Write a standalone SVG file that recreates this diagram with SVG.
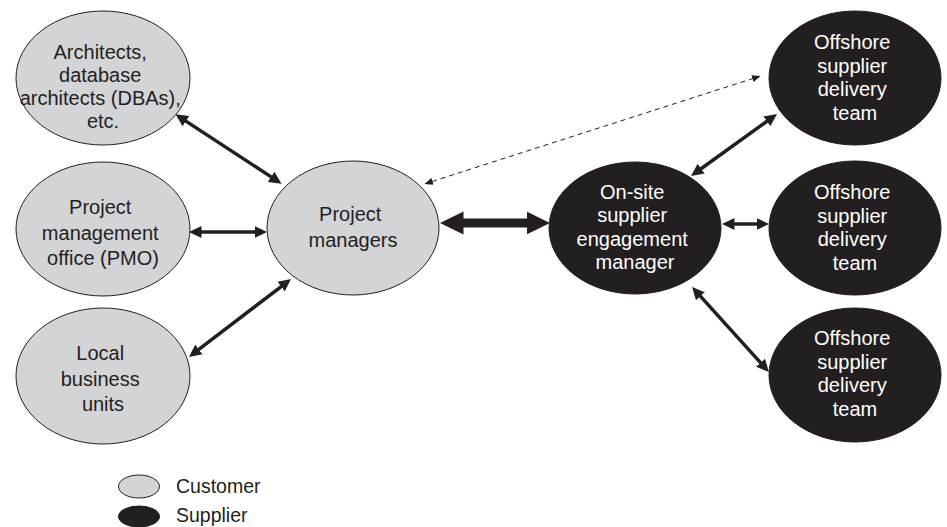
<svg xmlns="http://www.w3.org/2000/svg" width="947" height="527" viewBox="0 0 947 527">
  <style>
    .cust { fill: #d3d4d6; stroke: #231f20; stroke-width: 1; }
    .supp { fill: #231f20; stroke: #231f20; stroke-width: 1; }
    .lbl { font-family: "Liberation Sans", Arial, sans-serif; font-size: 20px; text-anchor: middle; }
    .dark { fill: #231f20; }
    .light { fill: #ffffff; }
    .legend { font-family: "Liberation Sans", Arial, sans-serif; font-size: 19.5px; fill: #231f20; }
    .link { stroke: #231f20; stroke-width: 3.5; fill: none; }
    .thick { stroke: #231f20; stroke-width: 9; fill: none; }
    .dash { stroke: #231f20; stroke-width: 1; stroke-dasharray: 5 4; fill: none; }
  </style>
  <defs>
    <marker id="head" markerUnits="userSpaceOnUse" markerWidth="13" markerHeight="13" viewBox="0 -6.5 13 13" refX="0.5" refY="0" orient="auto-start-reverse">
      <path d="M0,-6 L12.5,0 L0,6 Z" fill="#231f20"/>
    </marker>
    <marker id="bighead" markerUnits="userSpaceOnUse" markerWidth="24" markerHeight="24" viewBox="0 -12 24 24" refX="0.5" refY="0" orient="auto-start-reverse">
      <path d="M0,-11.5 L23.5,0 L0,11.5 Z" fill="#231f20"/>
    </marker>
    <marker id="smallhead" markerUnits="userSpaceOnUse" markerWidth="9" markerHeight="9" viewBox="0 -4.5 9 9" refX="0.5" refY="0" orient="auto-start-reverse">
      <path d="M0,-3.5 L8.5,0 L0,3.5 Z" fill="#231f20"/>
    </marker>
  </defs>

  <!-- customer-side nodes -->
  <g id="architects">
    <ellipse class="cust" cx="103" cy="78" rx="87" ry="67"/>
    <text class="lbl dark">
      <tspan x="103" y="59">Architects,</tspan>
      <tspan x="103" y="82">database</tspan>
      <tspan x="103" y="105">architects (DBAs),</tspan>
      <tspan x="103" y="128">etc.</tspan>
    </text>
  </g>
  <g id="pmo">
    <ellipse class="cust" cx="103" cy="229" rx="87" ry="67"/>
    <text class="lbl dark">
      <tspan x="103" y="214">Project</tspan>
      <tspan x="103" y="239.5">management</tspan>
      <tspan x="103" y="265">office (PMO)</tspan>
    </text>
  </g>
  <g id="local-units">
    <ellipse class="cust" cx="103" cy="376" rx="87" ry="68"/>
    <text class="lbl dark">
      <tspan x="103" y="360">Local</tspan>
      <tspan x="103" y="385.5">business</tspan>
      <tspan x="103" y="411">units</tspan>
    </text>
  </g>
  <g id="project-managers">
    <ellipse class="cust" cx="353" cy="228" rx="86" ry="67"/>
    <text class="lbl dark">
      <tspan x="353" y="221">Project</tspan>
      <tspan x="353" y="247">managers</tspan>
    </text>
  </g>

  <!-- supplier-side nodes -->
  <g id="onsite-manager">
    <ellipse class="supp" cx="635" cy="228" rx="86" ry="66"/>
    <text class="lbl light">
      <tspan x="635" y="199">On-site</tspan>
      <tspan x="635" y="222">supplier</tspan>
      <tspan x="635" y="245.5">engagement</tspan>
      <tspan x="635" y="268.5">manager</tspan>
    </text>
  </g>
  <g id="offshore-1">
    <ellipse class="supp" cx="855" cy="78" rx="86" ry="67"/>
    <text class="lbl light">
      <tspan x="855" y="49">Offshore</tspan>
      <tspan x="855" y="72.5">supplier</tspan>
      <tspan x="855" y="96">delivery</tspan>
      <tspan x="855" y="120">team</tspan>
    </text>
  </g>
  <g id="offshore-2">
    <ellipse class="supp" cx="855" cy="228" rx="86" ry="67"/>
    <text class="lbl light">
      <tspan x="855" y="199">Offshore</tspan>
      <tspan x="855" y="222.5">supplier</tspan>
      <tspan x="855" y="246">delivery</tspan>
      <tspan x="855" y="270">team</tspan>
    </text>
  </g>
  <g id="offshore-3">
    <ellipse class="supp" cx="855" cy="375" rx="86" ry="67"/>
    <text class="lbl light">
      <tspan x="855" y="345">Offshore</tspan>
      <tspan x="855" y="368.5">supplier</tspan>
      <tspan x="855" y="392">delivery</tspan>
      <tspan x="855" y="416">team</tspan>
    </text>
  </g>

  <!-- connectors -->
  <g id="connectors">
    <line class="link" x1="185.5" y1="120.9" x2="271.5" y2="177.1" marker-start="url(#head)" marker-end="url(#head)"/>
    <line class="link" x1="201" y1="232" x2="255" y2="232" marker-start="url(#head)" marker-end="url(#head)"/>
    <line class="link" x1="198.5" y1="349.7" x2="281.5" y2="286.3" marker-start="url(#head)" marker-end="url(#head)"/>
    <line class="thick" x1="463" y1="223" x2="527" y2="223" marker-start="url(#bighead)" marker-end="url(#bighead)"/>
    <line class="dash" x1="432" y1="181.5" x2="753" y2="78.5" marker-start="url(#smallhead)" marker-end="url(#smallhead)"/>
    <line class="link" x1="700.7" y1="169" x2="767.3" y2="121" marker-start="url(#head)" marker-end="url(#head)"/>
    <line class="link" x1="734" y1="224" x2="757" y2="224" marker-start="url(#head)" marker-end="url(#head)"/>
    <line class="link" x1="700.1" y1="295.9" x2="760.9" y2="363.1" marker-start="url(#head)" marker-end="url(#head)"/>
  </g>

  <!-- legend -->
  <g id="legend">
    <ellipse class="cust" cx="139" cy="486.5" rx="20.5" ry="11.5"/>
    <text class="legend" x="176" y="493">Customer</text>
    <ellipse class="supp" cx="139" cy="516.5" rx="20.5" ry="10.5"/>
    <text class="legend" x="176" y="521.5">Supplier</text>
  </g>
</svg>
